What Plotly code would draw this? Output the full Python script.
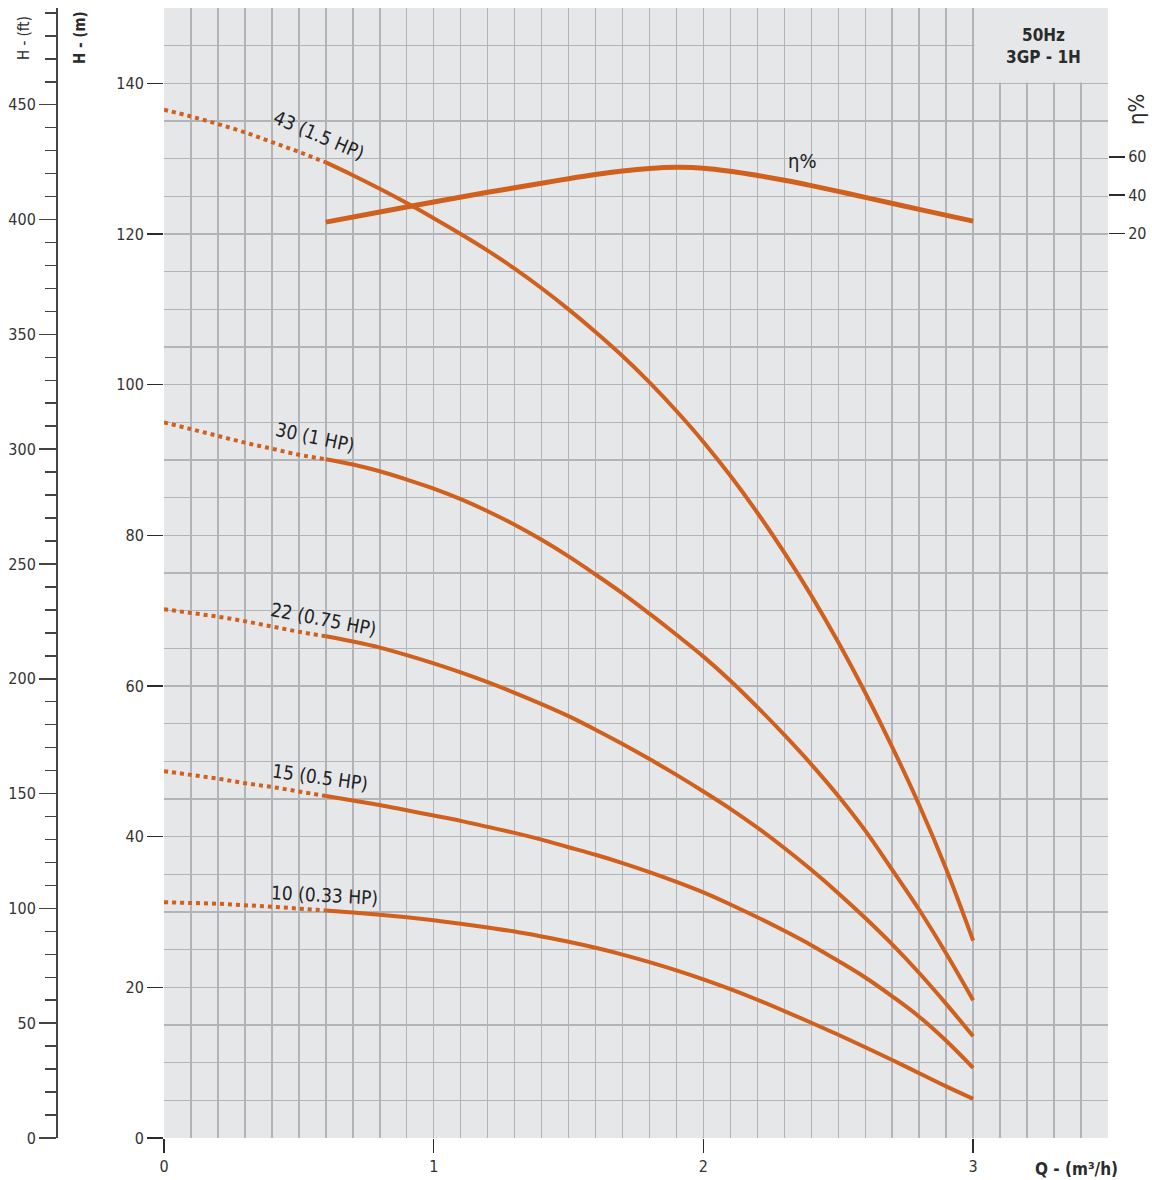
import plotly.graph_objects as go

# ---------------- data ----------------
Q_DOT = [0.0, 0.1, 0.2, 0.3, 0.4, 0.5, 0.6]
Q_CURVE = [0.6, 0.7, 0.8, 0.9, 1.0, 1.1, 1.2, 1.3, 1.4, 1.5, 1.6, 1.7, 1.8,
           1.9, 2.0, 2.1, 2.2, 2.3, 2.4, 2.5, 2.6, 2.7, 2.8, 2.9, 3.0]

H43_DOT = [136.5, 135.6, 134.6, 133.5, 132.2, 130.9, 129.5]
H43 = [129.5, 127.8, 126.0, 124.1, 122.1, 120.0, 117.8, 115.4, 112.8, 110.0,
       107.0, 103.8, 100.3, 96.5, 92.4, 87.9, 83.0, 77.7, 72.0, 65.8, 59.1,
       51.9, 44.2, 35.7, 26.2]

H30_DOT = [95.0, 94.1, 93.2, 92.3, 91.5, 90.7, 90.1]
H30 = [90.1, 89.4, 88.5, 87.4, 86.2, 84.8, 83.2, 81.4, 79.4, 77.2, 74.8, 72.3,
       69.6, 66.8, 63.9, 60.7, 57.2, 53.5, 49.6, 45.4, 40.8, 35.6, 30.3, 24.5,
       18.3]

H22_DOT = [70.2, 69.7, 69.2, 68.6, 67.9, 67.2, 66.6]
H22 = [66.6, 65.9, 65.1, 64.1, 63.0, 61.8, 60.5, 59.1, 57.6, 56.0, 54.2, 52.3,
       50.3, 48.2, 46.0, 43.7, 41.2, 38.5, 35.6, 32.5, 29.2, 25.7, 21.9, 17.8,
       13.5]

H15_DOT = [48.7, 48.2, 47.7, 47.1, 46.6, 46.0, 45.4]
H15 = [45.4, 44.8, 44.2, 43.5, 42.8, 42.1, 41.3, 40.5, 39.6, 38.6, 37.6, 36.5,
       35.3, 34.0, 32.6, 31.0, 29.3, 27.5, 25.6, 23.5, 21.3, 18.8, 16.1, 12.9,
       9.3]

H10_DOT = [31.3, 31.2, 31.1, 30.9, 30.7, 30.45, 30.2]
H10 = [30.2, 29.95, 29.65, 29.3, 28.9, 28.45, 27.95, 27.4, 26.75, 26.05, 25.25,
       24.35, 23.35, 22.25, 21.05, 19.75, 18.35, 16.85, 15.3, 13.7, 12.05,
       10.35, 8.6, 6.85, 5.2]

CURVE_LABELS = ["43 (1.5 HP)", "30 (1 HP)", "22 (0.75 HP)", "15 (0.5 HP)",
                "10 (0.33 HP)"]

Q_ETA = [0.6, 0.8, 1.0, 1.2, 1.4, 1.5, 1.6, 1.7, 1.8, 1.9, 2.0, 2.1, 2.2, 2.3,
         2.4, 2.5, 2.6, 2.8, 3.0]
ETA = [26.0, 31.3, 36.5, 41.5, 46.2, 48.6, 50.8, 52.6, 53.9, 54.5, 54.1, 52.5,
       50.3, 47.8, 45.0, 42.0, 38.9, 32.6, 26.5]

X_TICKS = [0, 1, 2, 3]
Y_TICKS_M = [0, 20, 40, 60, 80, 100, 120, 140]
Y_TICKS_FT = [0, 50, 100, 150, 200, 250, 300, 350, 400, 450]
ETA_TICKS = [20, 40, 60]

# ---------------- style / layout ----------------
W, HGT = 1152, 1180
ML, MR, MT, MB = 57, 44, 8, 42
PLOT_X0 = 164
ORANGE = "#d0601e"
BG = "#e6e7e9"
GRID = "#b3b4b7"
INK = "#2b2b2b"
COND = "DejaVu Sans Condensed, DejaVu Sans, sans-serif"

Y_MAX = 150
FT_PER_M = 3.28084
ETA_RANGE = [-451, 137.5]

pw = W - ML - MR
ph = HGT - MT - MB


def paper(px, py):
    return (px - ML) / pw, (HGT - MB - py) / ph


fig = go.Figure()

curves = [(H43_DOT, H43), (H30_DOT, H30), (H22_DOT, H22), (H15_DOT, H15),
          (H10_DOT, H10)]
for (hd, hs), name in zip(curves, CURVE_LABELS):
    fig.add_trace(go.Scatter(x=Q_DOT, y=hd, mode="lines", name=name,
                             line=dict(color=ORANGE, width=4, dash="dot",
                                       shape="spline"),
                             showlegend=False, hoverinfo="skip"))
    fig.add_trace(go.Scatter(x=Q_CURVE, y=hs, mode="lines", name=name,
                             line=dict(color=ORANGE, width=4, shape="spline"),
                             showlegend=False))

fig.add_trace(go.Scatter(x=Q_ETA, y=ETA, mode="lines", name="η%",
                         yaxis="y3",
                         line=dict(color=ORANGE, width=5, shape="spline"),
                         showlegend=False))

# dummy trace so that the ft axis is drawn
fig.add_trace(go.Scatter(x=[None], y=[None], yaxis="y2", showlegend=False,
                         hoverinfo="skip"))

# curve labels: (Q, H, angle)
label_pos = [(0.575, 133.2, 23), (0.56, 93.0, 12), (0.592, 68.9, 11),
             (0.578, 47.9, 8), (0.596, 32.3, 3)]
for text, (qx, hy, ang) in zip(CURVE_LABELS, label_pos):
    fig.add_annotation(x=qx, y=hy, xref="x", yref="y", text=text,
                       showarrow=False, textangle=ang,
                       xanchor="center", yanchor="middle",
                       font=dict(family=COND, size=19, color="#222"))
fig.add_annotation(x=2.367, y=129.7, xref="x", yref="y", text="η%",
                   showarrow=False, xanchor="center", yanchor="middle",
                   font=dict(family=COND, size=20, color="#222"))

# top-right box hiding grid
fig.add_shape(type="rect", xref="x", yref="y", x0=3.006, x1=3.5, y0=140.12,
              y1=Y_MAX, fillcolor=BG, line=dict(width=0), layer="between")


def ptext(px, py, text, size, bold=False, angle=0, color=INK):
    x, y = paper(px, py)
    fig.add_annotation(x=x, y=y, xref="paper", yref="paper",
                       text=f"<b>{text}</b>" if bold else text,
                       showarrow=False, textangle=angle,
                       xanchor="center", yanchor="middle",
                       font=dict(family=COND, size=size, color=color))


ptext(1043, 35, "50Hz", 17, bold=True)
ptext(1043, 57, "3GP - 1H", 17, bold=True)
ptext(1076, 1169, "Q - (m³/h)", 17, bold=True)
ptext(24, 38, "H - (ft)", 15, angle=-90)
ptext(80, 38, "H - (m)", 15, bold=True, angle=-90)
ptext(1137, 110, "η%", 22, angle=-90)

x0_dom = (PLOT_X0 - ML) / pw
tickfont = dict(family=COND, size=16, color="#333")

fig.update_layout(
    width=W, height=HGT,
    margin=dict(l=ML, r=MR, t=MT, b=MB, autoexpand=False),
    paper_bgcolor="white", plot_bgcolor=BG,
    showlegend=False,
    xaxis=dict(domain=[x0_dom, 1], range=[0, 3.5], tickmode="array",
               tickvals=X_TICKS, ticks="outside", ticklen=14, tickwidth=1.5,
               tickcolor=INK, tickfont=tickfont, showgrid=True,
               gridcolor=GRID, gridwidth=1.5, zeroline=False,
               showline=False, automargin=False,
               minor=dict(tickmode="linear", tick0=0, dtick=0.1,
                          showgrid=True, gridcolor=GRID, gridwidth=1.5,
                          ticks="")),
    yaxis=dict(range=[0, Y_MAX], tickmode="array", tickvals=Y_TICKS_M,
               ticks="outside", ticklen=16, tickwidth=1.5, tickcolor=INK,
               tickfont=tickfont, showgrid=True, gridcolor=GRID,
               gridwidth=1.5, zeroline=False, showline=False,
               automargin=False,
               minor=dict(tickmode="linear", tick0=0, dtick=5, showgrid=True,
                          gridcolor=GRID, gridwidth=1.5, ticks="")),
    yaxis2=dict(overlaying="y", anchor="free", position=0, side="left",
                range=[0, Y_MAX * FT_PER_M], tickmode="array",
                tickvals=Y_TICKS_FT, ticks="outside", ticklen=17,
                tickwidth=1.5, tickcolor="#444", tickfont=tickfont,
                showgrid=False, zeroline=False, showline=True,
                linecolor="#444", linewidth=2, automargin=False,
                minor=dict(tickmode="linear", tick0=0, dtick=10,
                           ticks="outside", ticklen=11, tickwidth=1.5,
                           tickcolor="#444", showgrid=False)),
    yaxis3=dict(overlaying="y", anchor="x", side="right", range=ETA_RANGE,
                tickmode="array", tickvals=ETA_TICKS, ticks="outside",
                ticklen=16, tickwidth=1.5, tickcolor=INK, tickfont=tickfont,
                showgrid=False, zeroline=False, showline=False,
                automargin=False),
)

fig.write_html(
    "out.html",
    config={"displayModeBar": False, "staticPlot": True},
    post_script="document.body.style.margin='0px';"
                "document.body.style.overflow='hidden';",
)
